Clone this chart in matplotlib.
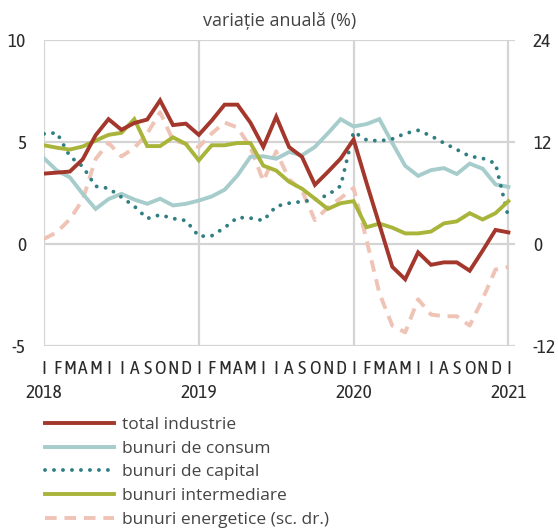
import matplotlib
matplotlib.use("Agg")
import matplotlib.pyplot as plt
from matplotlib.lines import Line2D
import numpy as np

months = ['I','F','M','A','M','I','I','A','S','O','N','D'] * 3 + ['I']
years = ['2018', '2019', '2020', '2021']

total = [3.45, 3.5, 3.55, 4.15, 5.33, 6.12, 5.6, 5.93, 6.1, 7.04, 5.83, 5.9, 5.35,
         6.05, 6.83, 6.83, 5.95, 4.76, 6.24, 4.75, 4.27, 2.9, 3.53, 4.19, 5.12,
         3.0, 0.95, -1.12, -1.73, -0.41, -1.02, -0.9, -0.9, -1.31, -0.33, 0.69, 0.57]
consum = [4.2, 3.6, 3.27, 2.46, 1.72, 2.2, 2.46, 2.18, 1.97, 2.22, 1.89, 1.97, 2.13,
          2.33, 2.66, 3.36, 4.27, 4.3, 4.18, 4.51, 4.35, 4.76, 5.42, 6.12, 5.76,
          5.88, 6.12, 4.95, 3.83, 3.34, 3.62, 3.72, 3.43, 3.94, 3.69, 2.92, 2.8]
capital = [5.4, 5.45, 4.3, 3.8, 2.83, 2.73, 2.3, 1.85, 1.25, 1.43, 1.25, 1.15, 0.38,
           0.4, 0.8, 1.3, 1.27, 1.15, 1.85, 2.0, 2.08, 2.17, 2.4, 2.85, 5.5,
           5.1, 5.05, 5.15, 5.42, 5.57, 5.3, 4.95, 4.63, 4.3, 4.2, 3.95, 1.3]
intermed = [4.84, 4.72, 4.63, 4.78, 5.07, 5.35, 5.45, 6.12, 4.8, 4.8, 5.23, 4.9, 4.1,
            4.84, 4.84, 4.95, 4.95, 3.84, 3.6, 3.05, 2.71, 2.22, 1.72, 2.0, 2.1,
            0.82, 1.0, 0.8, 0.52, 0.52, 0.61, 1.01, 1.11, 1.51, 1.2, 1.51, 2.1]
energy = [0.6, 1.4, 2.9, 5.2, 10.0, 11.9, 10.3, 11.3, 13.0, 15.5, 12.2, 11.8, 11.4,
          13.0, 14.3, 13.7, 11.4, 7.4, 10.9, 7.6, 6.3, 2.8, 4.3, 5.4, 6.6,
          0.5, -5.8, -9.6, -10.4, -6.5, -8.3, -8.5, -8.5, -9.6, -6.5, -3.0, -2.7]

labels = ['total industrie', 'bunuri de consum', 'bunuri de capital',
          'bunuri intermediare', 'bunuri energetice (sc. dr.)']

c_total = '#A3372B'
c_cons = '#A6CCCB'
c_cap = '#2F7F82'
c_int = '#A9B43A'
c_en = '#EFC3B6'
c_grid = '#D4D4D4'
c_text = '#2B2B2B'

narrow = ['Asap Condensed', 'Archivo Narrow', 'DejaVu Sans']
light = ['Open Sans', 'DejaVu Sans']

W, H = 558, 530
fig = plt.figure(figsize=(W/100, H/100), dpi=100)
L, R, T, B = 44, 44 + 12.9*36.5, 40, 346
ax = fig.add_axes([L/W, 1 - B/H, (R-L)/W, (B-T)/H])
ax2 = ax.twinx()

x = np.arange(len(total))
lw = 2.8

ax2.plot(x, energy, color=c_en, lw=lw, linestyle=(0, (3, 2)))
ax.plot(x, consum, color=c_cons, lw=lw, solid_joinstyle='miter')
ax.plot(x, capital, color=c_cap, lw=lw, linestyle=(0, (0.01, 2.3)), dash_capstyle='round')
ax.plot(x, intermed, color=c_int, lw=lw, solid_joinstyle='miter')
ax.plot(x, total, color=c_total, lw=lw, solid_joinstyle='miter')

ax.set_zorder(ax2.get_zorder() + 1)
ax.patch.set_visible(False)

ax.set_xlim(0, 36.5)
ax.set_ylim(-5, 10)
ax2.set_ylim(-12, 24)

for yv in [-5, 0, 5, 10]:
    ax2.axhline(yv * 2.4, color=c_grid, lw=1.6, zorder=0)
for xv in [0, 12, 24, 36]:
    ax2.axvline(xv, color=c_grid, lw=1.6, zorder=0)

for a in (ax, ax2):
    for s in a.spines.values():
        s.set_visible(False)

fs_tick = 14
ax.set_yticks([-5, 0, 5, 10])
ax.set_yticklabels(['-5', '0', '5', '10'], fontsize=fs_tick, family=narrow, color=c_text)
ax2.set_yticks([-12, 0, 12, 24])
ax2.set_yticklabels(['-12', '0', '12', '24'], fontsize=fs_tick, family=narrow, color=c_text)
ax.tick_params(axis='y', length=0, pad=13)
ax2.tick_params(axis='y', length=0, pad=13)

ax.set_xticks(x)
ax.set_xticklabels(months, fontsize=fs_tick, family=narrow, color=c_text)
ax.tick_params(axis='x', length=0, pad=10)
ax2.tick_params(axis='x', length=0)

for i, yl in enumerate(years):
    ax.text(12*i, -0.155, yl, transform=ax.get_xaxis_transform(), ha='center', va='center',
            fontsize=fs_tick, family=narrow, color=c_text)

fig.text((L + R)/2/W, 1 - 21/H, 'variație anuală (%)', ha='center', va='center',
         fontsize=13, family=light, color='#444444')

handles = [
    Line2D([], [], color=c_total, lw=lw),
    Line2D([], [], color=c_cons, lw=lw),
    Line2D([], [], color=c_cap, lw=lw, linestyle=(0, (0.01, 2.3)), dash_capstyle='round'),
    Line2D([], [], color=c_int, lw=lw),
    Line2D([], [], color=c_en, lw=lw, linestyle=(0, (3, 2))),
]
leg = fig.legend(handles, labels, loc='upper left', bbox_to_anchor=(45/W, 1 - 417/H),
                 frameon=False, prop={'family': light, 'size': 12.5},
                 handlelength=4.0, handletextpad=0.45, labelspacing=0.43,
                 borderaxespad=0, borderpad=0)
for t in leg.get_texts():
    t.set_color('#444444')

fig.savefig('out.png', dpi=100)
